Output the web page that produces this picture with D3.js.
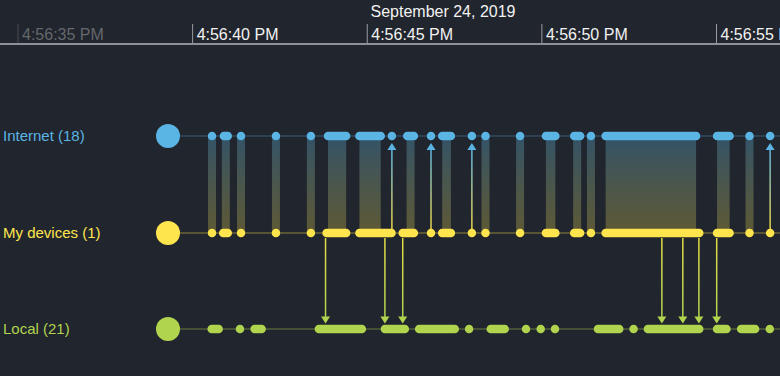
<!DOCTYPE html>
<html>
<head>
<meta charset="utf-8">
<script src="https://cdn.jsdelivr.net/npm/d3@7"></script>
<style>
    html, body { margin: 0; padding: 0; background: #21252d; }
    svg { display: block; font-family: "Liberation Sans", Arial, sans-serif; }
</style>
</head>
<body>
<div id="container"></div>
<script>
// seconds after 4:56:00 PM, [start, end]
const lanes = ["Internet (18)", "My devices (1)", "Local (21)"]
const laneColors = ["#5ab4e4", "#ffe54d", "#b1d44f"]

const internetEvents = [
    [40.57, 40.57], [40.91, 41.02], [41.40, 41.40], [42.40, 42.40], [43.40, 43.40],
    [43.89, 44.41], [44.79, 45.40], [45.72, 45.72], [46.16, 46.35], [46.84, 46.84],
    [47.16, 47.41], [48.01, 48.01], [48.40, 48.40], [49.39, 49.39], [50.13, 50.40],
    [50.94, 51.11], [51.42, 51.42], [51.84, 54.43], [55.03, 55.39], [55.96, 55.96],
    [56.55, 56.55]
]
const deviceEvents = [
    [40.57, 40.57], [40.89, 41.02], [41.40, 41.40], [42.40, 42.40], [43.40, 43.40],
    [43.85, 44.41], [44.79, 45.71], [46.03, 46.35], [46.84, 46.84], [47.16, 47.41],
    [48.01, 48.01], [48.40, 48.40], [49.39, 49.39], [50.13, 50.40], [50.94, 51.11],
    [51.42, 51.42], [51.84, 54.52], [55.03, 55.39], [55.96, 55.96], [56.55, 56.55]
]
const localEvents = [
    [40.56, 40.76], [41.37, 41.37], [41.79, 41.99], [43.63, 44.86], [45.52, 46.09],
    [46.50, 47.52], [47.93, 47.93], [48.55, 48.95], [49.56, 49.56], [49.98, 49.98],
    [50.39, 50.39], [51.62, 52.23], [52.64, 52.64], [53.05, 54.52], [55.03, 55.30],
    [55.72, 56.12], [56.54, 56.54]
]
// device -> internet requests, device -> local requests
const arrowsUp = [45.72, 46.84, 48.01, 56.55]
const arrowsDown = [43.82, 45.52, 46.03, 53.45, 54.05, 54.51, 55.02]

const axisTicks = [35, 40, 45, 50, 55]
const dateLabel = "September 24, 2019"

/********************* Setup ************************/

const width = 780
const height = 376
const laneY = [136, 233, 329]
const nodeX = 168
const barH = 8.5

const t = s => new Date(2019, 8, 24, 16, 56, 0, Math.round(s * 1000))

const x = d3.scaleTime()
    .domain([t(35), t(55)])
    .range([17.5, 716])

const y = d3.scaleOrdinal().domain(lanes).range(laneY)

const svg = d3.select("#container")
    .append("svg")
    .attr("width", width)
    .attr("height", height)

const defs = svg.append("defs")

function vGradient(id, y1, y2, stops) {
    const g = defs.append("linearGradient")
        .attr("id", id)
        .attr("gradientUnits", "userSpaceOnUse")
        .attr("x1", 0).attr("x2", 0)
        .attr("y1", y1).attr("y2", y2)
    stops.forEach(s => g.append("stop")
        .attr("offset", s[0])
        .attr("stop-color", s[1])
        .attr("stop-opacity", s[2]))
}

vGradient("band", laneY[0], laneY[1], [[0, laneColors[0], 0.32], [1, laneColors[1], 0.27]])
vGradient("upLine", laneY[0] + 13, laneY[1] - 4, [[0, laneColors[0], 1], [1, laneColors[1], 0.9]])
vGradient("downLine", laneY[1] + 5, laneY[2] - 12, [[0, "#e2dc45", 1], [1, laneColors[2], 1]])

/********************* Axis ************************/

const axisY = 44

svg.append("text")
    .attr("x", 443)
    .attr("y", 17)
    .attr("text-anchor", "middle")
    .attr("fill", "#f2f2f2")
    .attr("font-size", 16)
    .text(dateLabel)

const axis = svg.append("g")
    .attr("transform", `translate(0,${axisY})`)
    .call(d3.axisBottom(x)
        .tickValues(axisTicks.map(t))
        .tickFormat(d3.timeFormat("%-I:%M:%S %p"))
        .tickSize(-20))

axis.select(".domain").remove()
axis.selectAll(".tick line")
    .attr("stroke", d => x(d) < 60 ? "#4a4d53" : "#9a9ca0")
axis.selectAll(".tick text")
    .attr("x", 4)
    .attr("y", -4)
    .attr("dy", null)
    .attr("text-anchor", "start")
    .attr("font-size", 16)
    .attr("fill", d => x(d) < 60 ? "#64676c" : "#f2f2f2")

svg.append("line")
    .attr("x1", 0).attr("x2", width)
    .attr("y1", axisY).attr("y2", axisY)
    .attr("stroke", "#8d9094")
    .attr("stroke-width", 2)

/********************* Lanes ************************/

const laneG = svg.append("g").selectAll("g")
    .data(lanes).enter()
    .append("g")

laneG.append("line")
    .attr("x1", nodeX).attr("x2", width)
    .attr("y1", d => y(d)).attr("y2", d => y(d))
    .attr("stroke", (d, i) => laneColors[i])
    .attr("stroke-opacity", (d, i) => i === 0 ? 0.2 : 0.25)
    .attr("stroke-width", 2)

laneG.append("circle")
    .attr("cx", nodeX)
    .attr("cy", d => y(d))
    .attr("r", 12)
    .attr("fill", (d, i) => laneColors[i])

laneG.append("text")
    .attr("x", 3)
    .attr("y", d => y(d))
    .attr("dy", "0.36em")
    .attr("font-size", 15)
    .attr("fill", (d, i) => laneColors[i])
    .text(d => d)

/********************* Links ************************/

// shaded bands for internet traffic that went through my device
const bands = internetEvents.filter(e => !arrowsUp.includes(e[0]))

svg.append("g").selectAll("rect")
    .data(bands).enter()
    .append("rect")
    .attr("x", d => Math.min(x(t(d[0])), (x(t(d[0])) + x(t(d[1]))) / 2 - 4))
    .attr("width", d => Math.max(8, x(t(d[1])) - x(t(d[0]))))
    .attr("y", laneY[0])
    .attr("height", laneY[1] - laneY[0])
    .attr("fill", "url(#band)")

const up = svg.append("g").selectAll("g")
    .data(arrowsUp).enter()
    .append("g")

up.append("rect")
    .attr("x", d => x(t(d)) - 0.75)
    .attr("width", 1.5)
    .attr("y", laneY[0] + 13)
    .attr("height", laneY[1] - 4 - laneY[0] - 13)
    .attr("fill", "url(#upLine)")

up.append("path")
    .attr("d", d => `M${x(t(d))},${laneY[0] + 7}l4.5,7h-9z`)
    .attr("fill", laneColors[0])

const down = svg.append("g").selectAll("g")
    .data(arrowsDown).enter()
    .append("g")

down.append("rect")
    .attr("x", d => x(t(d)) - 0.75)
    .attr("width", 1.5)
    .attr("y", laneY[1] + 5)
    .attr("height", laneY[2] - 12 - laneY[1] - 5)
    .attr("fill", "url(#downLine)")

down.append("path")
    .attr("d", d => `M${x(t(d))},${laneY[2] - 5.5}l-4.5,-7h9z`)
    .attr("fill", laneColors[2])

/********************* Events ************************/

const eventSets = [internetEvents, deviceEvents, localEvents]

eventSets.forEach((events, i) => {
    svg.append("g").selectAll("rect")
        .data(events).enter()
        .append("rect")
        .attr("x", d => x(t(d[0])) - barH / 2)
        .attr("width", d => x(t(d[1])) - x(t(d[0])) + barH)
        .attr("y", laneY[i] - barH / 2)
        .attr("height", barH)
        .attr("rx", barH / 2)
        .attr("fill", laneColors[i])
})
</script>
</body>
</html>
